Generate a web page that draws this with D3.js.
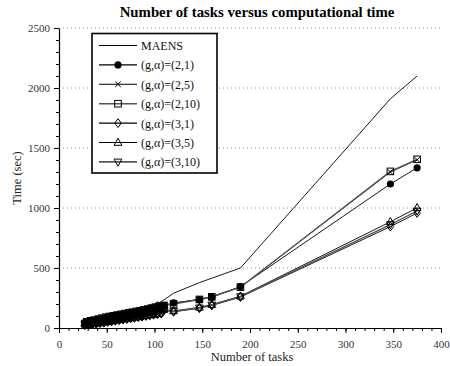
<!DOCTYPE html>
<html>
<head>
<meta charset="utf-8">
<script src="https://cdn.jsdelivr.net/npm/d3@7"></script>
<style>
  body { margin: 0; background: #fff; }
  text { font-family: "Liberation Serif", "DejaVu Serif", serif; }
</style>
</head>
<body>
<svg id="svg" width="450" height="366"></svg>
<script>
// number of tasks per instance (x values shared by every series)
const tasks = [27,29,31,33,35,37,39,41,43,45,47,49,51,53,55,57,59,61,63,65,67,69,71,73,75,77,79,81,83,85,87,89,91,93,95,97,99,101,103,105,107,110,
  120,147,160,190,347,375]

// computational time (sec) per series
const maens = [42,56,40,64,50,72,54,80,60,88,66,96,72,104,78,110,84,116,90,122,96,128,102,134,108,140,114,146,120,152,126,158,134,164,172,195,178,205,218,210,222,235,
  290,378,415,500,1910,2100]
const g2_1  = [28,48,34,56,38,62,44,70,50,78,56,84,62,92,68,98,74,104,80,110,86,116,92,122,98,128,104,134,110,140,116,148,122,154,128,162,136,170,146,178,156,186,
  210,236,256,345,1200,1335]
const g2_5  = [44,32,54,38,62,44,70,50,78,58,86,64,92,70,100,76,106,82,112,88,118,94,124,100,130,106,136,112,142,118,150,124,156,130,164,138,172,146,178,154,186,190,
  205,240,262,342,1300,1402]
const g2_10 = [36,52,38,60,44,66,50,74,56,82,62,90,68,96,74,102,80,108,86,114,92,120,98,126,104,132,110,138,116,144,122,152,128,158,136,166,142,174,152,182,162,188,
  200,238,260,340,1305,1406]
const g3_1  = [22,40,26,46,30,52,34,58,40,64,44,70,50,76,54,82,60,86,64,92,70,96,74,102,80,106,84,112,90,116,94,122,100,126,104,132,110,136,114,142,120,148,
  135,165,188,258,845,958]
const g3_5  = [38,26,48,32,54,36,60,42,66,48,72,52,78,58,84,62,90,68,94,72,100,78,104,82,110,88,114,92,120,98,124,102,130,108,134,112,140,118,144,122,150,154,
  142,172,195,265,885,1002]
const g3_10 = [30,44,32,50,36,56,40,62,46,68,50,74,56,80,60,86,64,90,70,96,74,100,80,106,84,110,90,116,94,120,100,126,104,130,110,136,114,140,120,146,124,150,
  138,168,192,262,862,975]

const xTicks = [0,50,100,150,200,250,300,350,400]
const yTicks = [0,500,1000,1500,2000,2500]

const series = [
  { name: "MAENS",        values: maens, marker: null,     color: "#000", width: 0.9 },
  { name: "(g,α)=(2,1)",  values: g2_1,  marker: "circle", color: "#000", width: 0.9 },
  { name: "(g,α)=(2,5)",  values: g2_5,  marker: "cross",  color: "#000", width: 0.9 },
  { name: "(g,α)=(2,10)", values: g2_10, marker: "square", color: "#555", width: 1.4 },
  { name: "(g,α)=(3,1)",  values: g3_1,  marker: "diamond",color: "#000", width: 0.9 },
  { name: "(g,α)=(3,5)",  values: g3_5,  marker: "triUp",  color: "#000", width: 0.9 },
  { name: "(g,α)=(3,10)", values: g3_10, marker: "triDown",color: "#555", width: 1.4 }
]

var svg = d3.select("svg")
var x = d3.scaleLinear().domain([0, 400]).range([59, 441])
var y = d3.scaleLinear().domain([0, 2500]).range([328, 28])

// title
svg.append("text").attr("x", 257).attr("y", 17).attr("text-anchor", "middle")
  .style("font-size", "14.8px").style("font-weight", "bold").text("Number of tasks versus computational time")

// dotted grid
svg.append("g").selectAll("line").data(yTicks.filter(d => d > 0)).enter().append("line")
  .attr("x1", x(0)).attr("x2", x(400)).attr("y1", d => y(d)).attr("y2", d => y(d))
  .attr("stroke", "#777").attr("stroke-width", 0.8).attr("stroke-dasharray", "1,3")

// axes: minor ticks first, then major ticks with labels
function styleTicks(g) {
  g.attr("font-family", null)
  g.selectAll("text").style("font-size", "11px").attr("fill", "#333")
}
svg.append("g").attr("transform", "translate(0," + y(0) + ")")
  .call(d3.axisBottom(x).tickValues(d3.range(0, 401, 10)).tickSize(3).tickFormat(""))
  .call(g => g.select(".domain").remove())
svg.append("g").attr("transform", "translate(0," + y(0) + ")")
  .call(d3.axisBottom(x).tickValues(xTicks).tickSize(5).tickPadding(7).tickSizeOuter(0).tickFormat(d3.format("d")))
  .call(styleTicks)

svg.append("g").attr("transform", "translate(" + x(0) + ",0)")
  .call(d3.axisLeft(y).tickValues(d3.range(0, 2501, 100)).tickSize(3).tickFormat(""))
  .call(g => g.select(".domain").remove())
svg.append("g").attr("transform", "translate(" + x(0) + ",0)")
  .call(d3.axisLeft(y).tickValues(yTicks).tickSize(5).tickPadding(4).tickSizeOuter(0).tickFormat(d3.format("d")))
  .call(styleTicks)

svg.selectAll(".domain").attr("stroke-width", 1.2)

// axis labels
svg.append("text").attr("x", 252).attr("y", 361).attr("text-anchor", "middle")
  .style("font-size", "12.5px").attr("fill", "#222").text("Number of tasks")
svg.append("text").attr("transform", "translate(21,178) rotate(-90)").attr("text-anchor", "middle")
  .style("font-size", "12.5px").attr("fill", "#222").text("Time (sec)")

// marker drawing helper (open markers are see-through)
function drawMarker(sel, type) {
  if (type === "circle") {
    sel.append("circle").attr("r", 3.6).attr("fill", "#000")
  } else if (type === "cross") {
    sel.append("path").attr("d", "M-2.8,-2.8L2.8,2.8M-2.8,2.8L2.8,-2.8").attr("stroke", "#000").attr("stroke-width", 1)
  } else if (type === "square") {
    sel.append("rect").attr("x", -3.3).attr("y", -3.3).attr("width", 6.6).attr("height", 6.6)
      .attr("fill", "none").attr("stroke", "#000").attr("stroke-width", 1)
  } else if (type === "diamond") {
    sel.append("path").attr("d", "M0,-4.4L3.3,0L0,4.4L-3.3,0Z").attr("fill", "none").attr("stroke", "#000").attr("stroke-width", 1)
  } else if (type === "triUp") {
    sel.append("path").attr("d", "M0,-4.3L3.9,2.8L-3.9,2.8Z").attr("fill", "none").attr("stroke", "#000").attr("stroke-width", 1)
  } else if (type === "triDown") {
    sel.append("path").attr("d", "M0,4.3L3.9,-2.8L-3.9,-2.8Z").attr("fill", "none").attr("stroke", "#000").attr("stroke-width", 1)
  }
}

var line = d3.line().x((d, i) => x(tasks[i])).y(d => y(d))

series.forEach(function (s) {
  svg.append("path").datum(s.values).attr("d", line).attr("fill", "none")
    .attr("stroke", s.color).attr("stroke-width", s.width)
})
series.forEach(function (s) {
  if (!s.marker) return
  svg.append("g").selectAll("g").data(s.values).enter().append("g")
    .attr("transform", (d, i) => "translate(" + x(tasks[i]) + "," + y(d) + ")")
    .each(function () { drawMarker(d3.select(this), s.marker) })
})

// legend
var legend = svg.append("g")
legend.append("rect").attr("x", 92).attr("y", 33.5).attr("width", 125).attr("height", 139.5)
  .attr("fill", "#fff").attr("stroke", "#000").attr("stroke-width", 1.6)
series.forEach(function (s, i) {
  var ly = 45.5 + i * 19.4
  legend.append("line").attr("x1", 99).attr("x2", 137).attr("y1", ly).attr("y2", ly)
    .attr("stroke", s.color).attr("stroke-width", s.width + 0.2)
  if (s.marker) {
    var m = legend.append("g").attr("transform", "translate(118," + ly + ")")
    drawMarker(m, s.marker)
  }
  legend.append("text").attr("x", 141).attr("y", ly + 4.5).style("font-size", "12px").attr("fill", "#111").text(s.name)
})
</script>
</body>
</html>
